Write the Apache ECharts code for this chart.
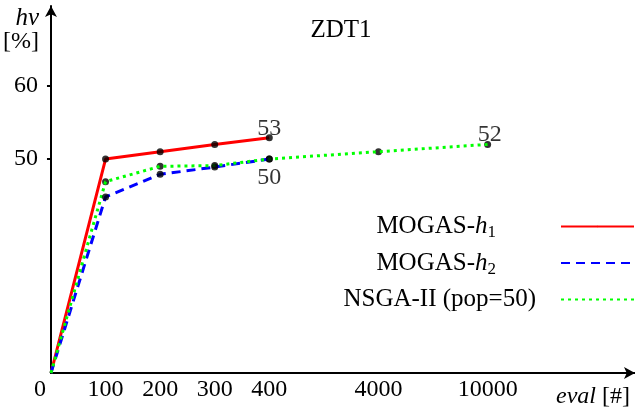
<!DOCTYPE html>
<html>
<head>
<meta charset="utf-8">
<script src="https://cdn.jsdelivr.net/npm/echarts@6/dist/echarts.min.js"></script>
<style>
  html, body { margin: 0; padding: 0; background: #fff; }
  #chart { width: 635px; height: 410px; }
</style>
</head>
<body>
<div id="chart"></div>
<script>
// x axis is broken: evaluations are drawn at these slots
const evalTicks = [0, 100, 200, 300, 400, 4000, 10000];
const tickSlots = [0, 1, 2, 3, 4, 6, 8];

const mogasEvals = [0, 100, 200, 300, 400];
const mogasH1 = [0, 50.0, 51.0, 52.0, 52.9];
const mogasH2 = [0, 44.8, 47.9, 48.9, 50.0];

const nsgaEvals = [0, 100, 200, 300, 400, 4000, 10000];
const nsgaHv = [0, 46.9, 49.0, 49.1, 50.0, 51.0, 52.0];

const yTicks = [50, 60];

// y axis is broken too, the origin sits at the bottom of the axis
const Y_MIN = 20.69;
const Y_MAX = 70.96;

const FONT = 'Liberation Serif';

const slotOf = e => tickSlots[evalTicks.indexOf(e)];
const toPoints = (evals, vals) => evals.map((e, i) => [slotOf(e), Math.max(vals[i], Y_MIN)]);
const dotsOf = pts => pts.filter(p => p[0] > 0);

const h1Pts = toPoints(mogasEvals, mogasH1);
const h2Pts = toPoints(mogasEvals, mogasH2);
const nsgaPts = toPoints(nsgaEvals, nsgaHv);

const chart = echarts.init(document.getElementById('chart'));

const lineSeries = (name, pts, color, type) => ({
    name: name,
    type: 'line',
    data: pts,
    symbol: 'none',
    z: 3,
    lineStyle: {color: color, width: 3, type: type},
    itemStyle: {color: color}
});

// black dots, last one carries the value label
const dotSeries = (pts, z, labelPos, offset) => ({
    type: 'scatter',
    data: dotsOf(pts).map((p, i, arr) => ({
        value: p,
        label: {
            show: i === arr.length - 1,
            position: labelPos,
            distance: 0,
            offset: offset,
            formatter: d => Math.round(d.value[1]),
            color: '#000',
            textBorderWidth: 0,
            fontFamily: FONT,
            fontSize: 24
        }
    })),
    symbolSize: 7,
    z: z,
    itemStyle: {color: '#000'},
    emphasis: {disabled: true},
    silent: true
});

const legendText = {
    'MOGAS-h1': '{t|MOGAS-}{i|h}{s|1}',
    'MOGAS-h2': '{t|MOGAS-}{i|h}{s|2}',
    'NSGA-II (pop=50)': '{t|NSGA-II (pop=50)}'
};

const option = {
    animation: false,
    backgroundColor: '#fff',
    textStyle: {fontFamily: FONT},
    title: {
        text: 'ZDT1',
        left: 336,
        top: 13,
        textAlign: 'center',
        textStyle: {fontFamily: FONT, fontSize: 25, fontWeight: 'normal', color: '#000'}
    },
    grid: {left: 47, right: 0, top: 6, bottom: 37},
    legend: {
        orient: 'vertical',
        align: 'right',
        right: 0,
        top: 214,
        padding: 0,
        itemWidth: 73,
        itemHeight: 2,
        itemGap: 9,
        data: [
            {name: 'MOGAS-h1', textStyle: {padding: [0, 60, 0, 0]}},
            {name: 'MOGAS-h2', textStyle: {padding: [0, 60, 0, 0]}},
            {name: 'NSGA-II (pop=50)', textStyle: {padding: [0, 20, 0, 0]}}
        ],
        formatter: n => legendText[n],
        textStyle: {
            color: '#000',
            fontFamily: FONT,
            fontSize: 25,
            rich: {
                t: {fontFamily: FONT, fontSize: 25, color: '#000', lineHeight: 30},
                i: {fontFamily: FONT, fontSize: 25, fontStyle: 'italic', color: '#000', lineHeight: 30},
                s: {fontFamily: FONT, fontSize: 17, color: '#000', lineHeight: 17, verticalAlign: 'bottom'}
            }
        }
    },
    xAxis: {
        type: 'value',
        min: 0,
        max: 10.7,
        splitLine: {show: false},
        axisLine: {
            onZero: false,
            symbol: ['none', 'arrow'],
            symbolSize: [9, 11],
            lineStyle: {color: '#000', width: 2}
        },
        axisTick: {show: false},
        axisLabel: {
            customValues: tickSlots,
            margin: 5,
            formatter: v => {
                const lbl = evalTicks[tickSlots.indexOf(v)];
                return lbl === 0 ? '{z|0}' : '{n|' + lbl + '}';
            },
            color: '#000',
            fontFamily: FONT,
            fontSize: 24,
            rich: {
                z: {fontFamily: FONT, fontSize: 24, color: '#000', padding: [0, 22, 0, 0]},
                n: {fontFamily: FONT, fontSize: 24, color: '#000'}
            }
        },
        name: '{i|eval} {n|[#]}',
        nameLocation: 'end',
        nameGap: -5,
        nameTextStyle: {
            align: 'right',
            verticalAlign: 'top',
            padding: [12, 0, 0, 0],
            color: '#000',
            fontFamily: FONT,
            fontSize: 24,
            rich: {
                i: {fontFamily: FONT, fontSize: 24, fontStyle: 'italic', color: '#000'},
                n: {fontFamily: FONT, fontSize: 24, color: '#000'}
            }
        }
    },
    yAxis: {
        type: 'value',
        min: Y_MIN,
        max: Y_MAX,
        splitLine: {show: false},
        axisLine: {
            onZero: false,
            symbol: ['none', 'arrow'],
            symbolSize: [9, 11],
            lineStyle: {color: '#000', width: 2}
        },
        axisTick: {
            customValues: yTicks,
            length: 4,
            lineStyle: {color: '#000', width: 2}
        },
        axisLabel: {
            customValues: yTicks,
            margin: 13,
            formatter: v => '{n|' + v + '}',
            color: '#000',
            fontFamily: FONT,
            fontSize: 24,
            rich: {n: {fontFamily: FONT, fontSize: 24, color: '#000'}}
        },
        name: '{i|hv}\n{n|[%]}',
        nameLocation: 'end',
        nameGap: 0,
        nameTextStyle: {
            align: 'right',
            verticalAlign: 'top',
            padding: [0, 12, 0, 0],
            color: '#000',
            fontFamily: FONT,
            fontSize: 24,
            rich: {
                i: {fontFamily: FONT, fontSize: 25, fontStyle: 'italic', color: '#000', lineHeight: 24},
                n: {fontFamily: FONT, fontSize: 24, color: '#000', lineHeight: 24}
            }
        }
    },
    series: [
        dotSeries(nsgaPts, 2, 'top', [2, 6]),
        lineSeries('MOGAS-h1', h1Pts, '#ff0000', 'solid'),
        lineSeries('MOGAS-h2', h2Pts, '#0000ff', [9, 6]),
        lineSeries('NSGA-II (pop=50)', nsgaPts, '#00ff00', [3, 4]),
        dotSeries(h2Pts, 4, 'bottom', [0, 3]),
        dotSeries(h1Pts, 4, 'top', [0, 6])
    ]
};

chart.setOption(option);
</script>
</body>
</html>
